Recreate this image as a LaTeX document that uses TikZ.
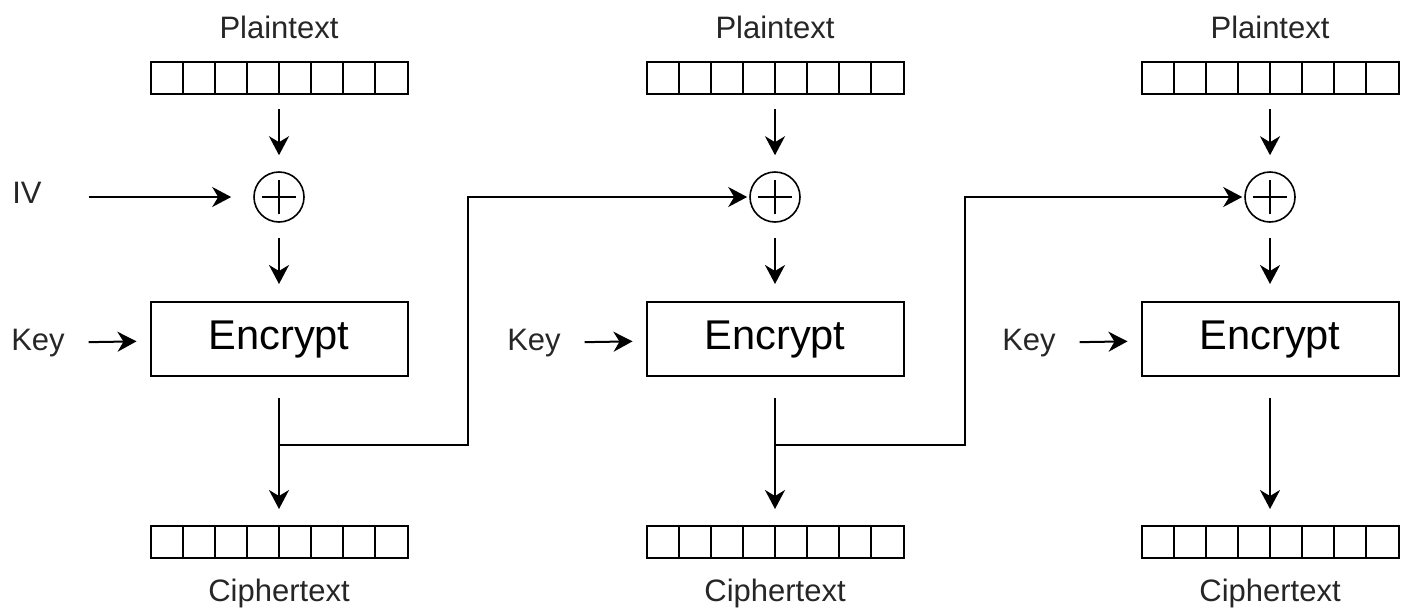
\documentclass[tikz,border=0pt]{standalone}
\usepackage{fontspec}
\setmainfont{Liberation Sans}
\usetikzlibrary{arrows.meta,calc}
\begin{document}
\begin{tikzpicture}[x=0.5pt,y=-0.5pt,
  line width=1pt,
  reg/.style={draw, minimum width=128.5pt, minimum height=16pt, inner sep=0pt,
    path picture={\foreach \i in {1,...,7}
      \draw[line width=1pt] ($(path picture bounding box.south west)!\i/8!(path picture bounding box.south east)$) --
            ($(path picture bounding box.north west)!\i/8!(path picture bounding box.north east)$);}},
  enc/.style={draw, minimum width=128.5pt, minimum height=37pt, inner sep=0pt,
    font=\fontsize{20.8}{24}\selectfont},
  xorc/.style={draw, circle, minimum size=25pt, inner sep=0pt, line width=0.8pt,
    path picture={\draw[line width=0.75pt]
      ($(path picture bounding box.center)+(0,-17)$) -- ($(path picture bounding box.center)+(0,17)$)
      ($(path picture bounding box.center)+(-17,0)$) -- ($(path picture bounding box.center)+(17,0)$);}},
  lbl/.style={font=\fontsize{15.5}{18}\selectfont, inner sep=0pt, text=black!85},
  arr/.style={-{Stealth[length=9.5pt,width=10pt,inset=3pt]}},
  fbl/.style={line join=miter},
]
\useasboundingbox (0,0) rectangle (1411,611);
\foreach \n/\cx in {1/279,2/775,3/1270}{
  \node[lbl] (pl\n) at (\cx,27) {Plaintext};
  \node[reg] (p\n) at (\cx,78) {};
  \node[xorc] (x\n) at (\cx,197) {};
  \node[enc] (e\n) at (\cx,339) {Encrypt};
  \node[reg] (c\n) at (\cx,542) {};
  \node[lbl] (cl\n) at (\cx,593) {Ciphertext};
  \node[lbl] (k\n) at (\cx-241,343) {Key};
  \coordinate (b\n) at (\cx,445);
  \draw[arr, shorten <=7pt, shorten >=8pt] (p\n) -- (x\n);
  \draw[arr, shorten <=7.5pt, shorten >=8.5pt] (x\n) -- (e\n);
  \draw[arr, shorten <=11.5pt, shorten >=6.5pt] (k\n) -- (e\n);
  \draw[arr, shorten <=10.5pt, shorten >=8pt] (e\n) -- (c\n);
}
\node[lbl] (iv) at (27,193) {IV};
\draw[arr, shorten <=23pt, shorten >=11pt] (iv.east |- x1) -- (x1);
\coordinate (t1) at (468,445);
\coordinate (t2) at (965,445);
\draw[arr, fbl, shorten >=1pt] (b1) -- (t1) |- (x2);
\draw[arr, fbl, shorten >=1pt] (b2) -- (t2) |- (x3);
\end{tikzpicture}
\end{document}
